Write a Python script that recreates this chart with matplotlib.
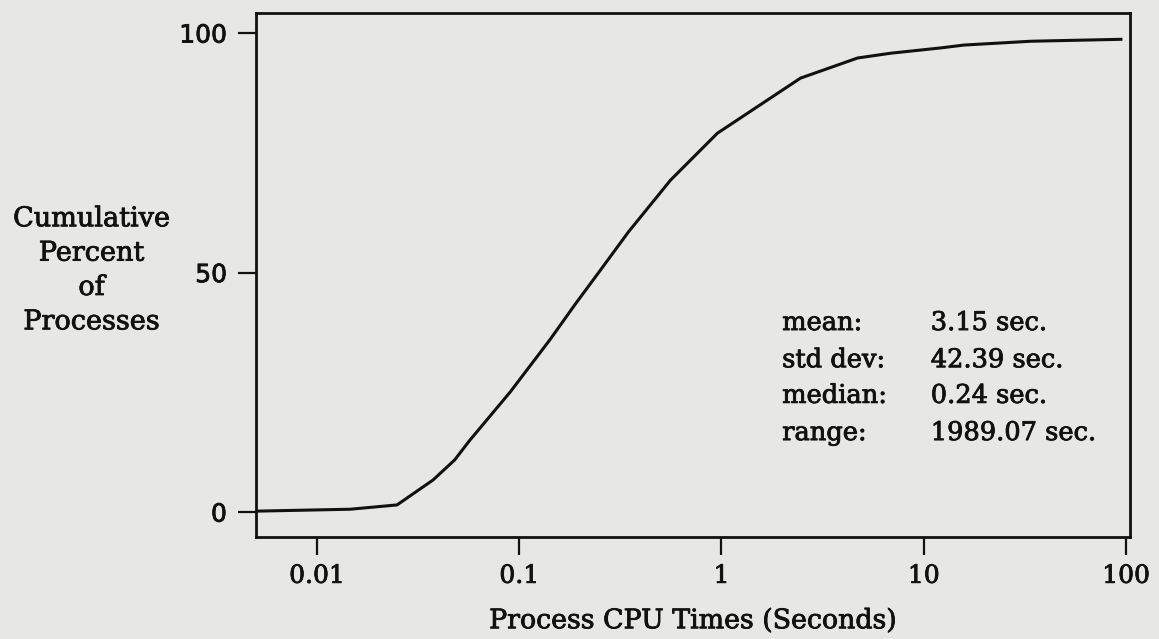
import numpy as np
import matplotlib
matplotlib.use("Agg")
import matplotlib.pyplot as plt
import matplotlib.patheffects as pe

# cumulative distribution of process CPU times
cpu_time = [0.005, 0.0146, 0.0249, 0.0375, 0.048, 0.057, 0.090, 0.142, 0.19,
            0.252, 0.347, 0.56, 0.955, 2.46, 4.71, 6.87, 12.1, 15.8, 33.9, 94.4]
cum_pct = [0.2, 0.6, 1.5, 6.7, 10.9, 15.0, 25.0, 36.0, 43.5,
           50.5, 58.5, 69.3, 79.1, 90.6, 94.8, 95.8, 96.9, 97.5, 98.3, 98.7]

x_ticks = [0.01, 0.1, 1, 10, 100]
x_tick_labels = ["0.01", "0.1", "1", "10", "100"]
y_ticks = [0, 50, 100]

stat_names = ["mean:", "std dev:", "median:", "range:"]
stat_values = ["3.15 sec.", "42.39 sec.", "0.24 sec.", "1989.07 sec."]

paper = "#e7e7e5"
ink = "#111111"
serif = "DejaVu Serif"
thick = [pe.withStroke(linewidth=0.6, foreground=ink)]

fig = plt.figure(figsize=(11.59, 6.39), dpi=100, facecolor=paper)
ax = fig.add_axes([0.2209, 0.1596, 0.7541, 0.8201], facecolor=paper)

ax.plot(cpu_time, cum_pct, color=ink, lw=2.2)

ax.set_xscale("log")
ax.set_xlim(0.005, 104.7)
ax.set_ylim(-5.2, 104.2)

ax.set_xticks(x_ticks)
ax.set_xticklabels(x_tick_labels, fontfamily=serif, fontsize=18, path_effects=thick)
ax.xaxis.set_minor_locator(matplotlib.ticker.NullLocator())
ax.set_yticks(y_ticks)
ax.set_yticklabels([str(v) for v in y_ticks], fontfamily="DejaVu Sans",
                   fontsize=18, path_effects=thick)

ax.tick_params(axis="x", direction="out", length=13, width=1.6, pad=7, colors=ink)
ax.tick_params(axis="y", direction="out", length=13, width=1.6, pad=8, colors=ink)
for s in ax.spines.values():
    s.set_linewidth(2.0)
    s.set_color(ink)

ax.set_xlabel("Process CPU Times (Seconds)", fontfamily=serif, fontsize=19.3,
              color=ink, labelpad=14, path_effects=thick)

fig.text(0.079, 0.577, "Cumulative\nPercent\nof\nProcesses", fontfamily=serif,
         fontsize=19.5, color=ink, ha="center", va="center",
         multialignment="center", linespacing=1.35, path_effects=thick)

row_y = [0.395, 0.324, 0.256, 0.185]
for name, val, yy in zip(stat_names, stat_values, row_y):
    ax.text(0.602, yy, name, transform=ax.transAxes, fontfamily=serif,
            fontsize=18.5, color=ink, va="baseline", path_effects=thick)
    ax.text(0.772, yy, val, transform=ax.transAxes, fontfamily=serif,
            fontsize=18.5, color=ink, va="baseline", path_effects=thick)

fig.savefig("out.png", dpi=100, facecolor=paper)
